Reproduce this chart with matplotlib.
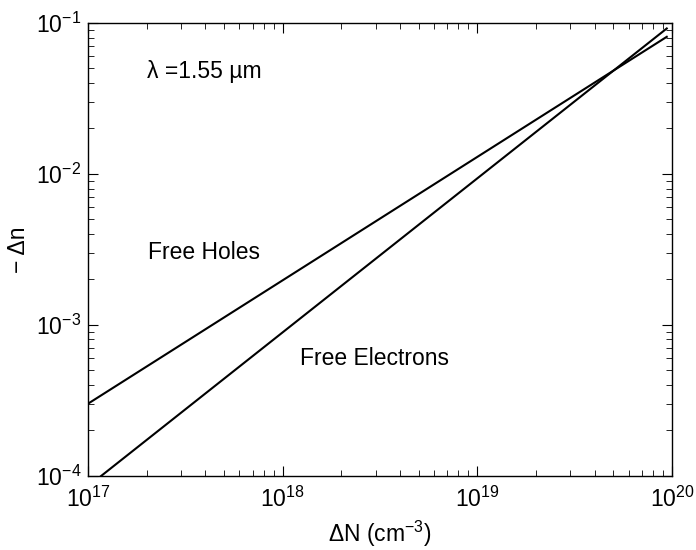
import matplotlib
matplotlib.use("Agg")
import matplotlib.pyplot as plt

plt.rcParams['font.family'] = ['Liberation Sans', 'DejaVu Sans']
plt.rcParams['mathtext.fontset'] = 'custom'
plt.rcParams['mathtext.rm'] = 'Liberation Sans'
plt.rcParams['mathtext.it'] = 'Liberation Sans'

# carrier density (cm^-3) at the ends of each line
densityN = [1e17, 9.4e19]

electronsY = [8.5e-5, 0.092]
holesY = [3.0e-4, 0.081]

fig = plt.figure(figsize=(6.96, 5.5), dpi=100)
ax = fig.add_axes([88/696, 1 - 475.7/550, 584/696, 452.7/550])

ax.plot(densityN, electronsY, color="black", lw=1.5)
ax.plot(densityN, holesY, color="black", lw=1.5)

ax.set_xscale("log")
ax.set_yscale("log")
ax.set_xlim(1e17, 1e20)
ax.set_ylim(1e-4, 1e-1)
ax.set_xticks([1e17, 1e18, 1e19, 1e20])
ax.set_yticks([1e-4, 1e-3, 1e-2, 1e-1])

ax.tick_params(which="both", direction="in", top=True, right=True, labelsize=16.5, pad=5)
ax.tick_params(axis="x", which="major", pad=8)
ax.tick_params(which="major", length=7)
ax.tick_params(which="minor", length=4)
for s in ax.spines.values():
    s.set_linewidth(1.0)

fs = 16.5
ax.text(0.101, 0.892, "λ =1.55 µm", transform=ax.transAxes, fontsize=fs, va="center")
ax.text(0.103, 0.492, "Free Holes", transform=ax.transAxes, fontsize=fs, va="center")
ax.text(0.363, 0.258, "Free Electrons", transform=ax.transAxes, fontsize=fs, va="center")

ax.set_xlabel("ΔN (cm$^{-3}$)", fontsize=fs, labelpad=5)
ax.set_ylabel("− Δn", fontsize=fs, labelpad=4)

fig.savefig("out.png", dpi=100)
